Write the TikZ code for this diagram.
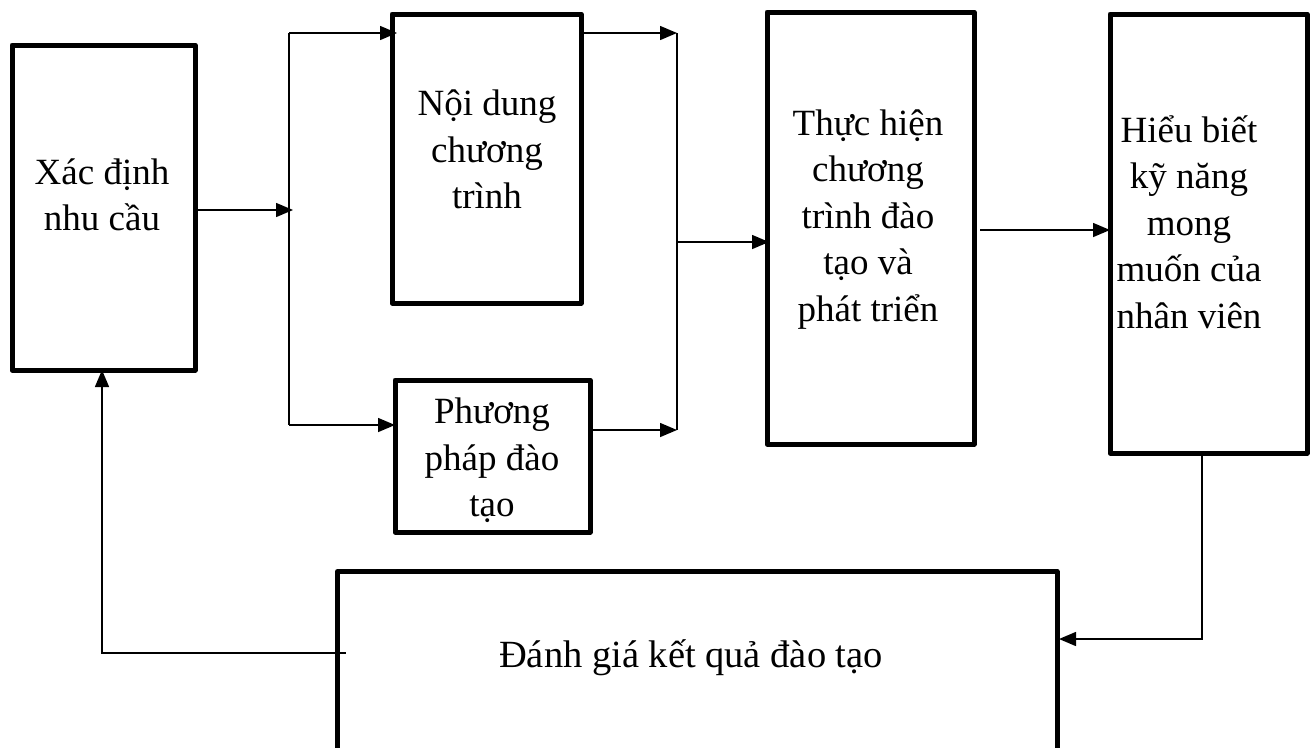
\documentclass[tikz,border=0pt]{standalone}
\usepackage{fontspec}
\setmainfont{Liberation Serif}
\usetikzlibrary{arrows.meta,calc}

\tikzset{
  box/.style={draw, line width=5pt, line join=round, rectangle,
              inner sep=0pt, outer sep=0pt},
  lbl/.style={align=center, inner sep=0pt, outer sep=0pt,
              font=\fontsize{37pt}{46.5pt}\selectfont},
  conn/.style={line width=1.5pt},
  arr/.style={conn, -{Triangle[length=17pt,width=14pt]}},
}
\newcommand{\txtline}[1]{\strut #1}

\begin{document}
\begin{tikzpicture}[x=1pt,y=-1pt]
  \clip (0,0) rectangle (1316,747);
  \fill[white] (0,0) rectangle (1316,747);

  % boxes
  \node[box, minimum width=183pt, minimum height=325pt] (need)    at (103.5,207.5) {};
  \node[box, minimum width=189pt, minimum height=289pt] (content) at (486.5,158.5) {};
  \node[box, minimum width=195pt, minimum height=152pt] (method)  at (492.5,456)   {};
  \node[box, minimum width=207pt, minimum height=432pt] (impl)    at (870.5,228)   {};
  \node[box, minimum width=197pt, minimum height=439pt] (skill)   at (1208.5,233.5){};
  \node[box, minimum width=719.5pt, minimum height=240pt] (eval)  at (697.25,691.5){};

  % labels
  \node[lbl] (needT)    at (102,198)  {\txtline{Xác định}\\\txtline{nhu cầu}};
  \node[lbl] (contentT) at (487,153)  {\txtline{Nội dung}\\\txtline{chương}\\\txtline{trình}};
  \node[lbl] (methodT)  at (492,461)  {\txtline{Phương}\\\txtline{pháp đào}\\\txtline{tạo}};
  \node[lbl] (implT)    at (868,219)  {\txtline{Thực hiện}\\\txtline{chương}\\\txtline{trình đào}\\\txtline{tạo và}\\\txtline{phát triển}};
  \node[lbl] (skillT)   at (1189,226) {\txtline{Hiểu biết}\\\txtline{kỹ năng}\\\txtline{mong}\\\txtline{muốn của}\\\txtline{nhân viên}};
  \node[lbl, font=\fontsize{38.5pt}{46.5pt}\selectfont] (evalT) at (691,658) {\txtline{Đánh giá kết quả đào tạo}};

  % junction points
  \coordinate (splitTop) at (289,33);
  \coordinate (splitMid) at (289,210);
  \coordinate (splitBot) at (289,425);
  \coordinate (joinTop)  at (677,33);
  \coordinate (joinMid)  at (677,242);
  \coordinate (joinBot)  at (677,430);
  \coordinate (fbCorner) at (1202,639);
  \coordinate (backCorner) at (102,653);

  % fan-out from needs analysis
  \draw[conn] (splitTop) -- (splitBot);
  \draw[arr] ([xshift=2pt]need.east |- splitMid) -- ([xshift=4pt]splitMid);
  \draw[arr] (splitTop) -- ([xshift=5pt]splitTop -| content.west);
  \draw[arr] (splitBot) -- (splitBot -| method.west);

  % merge into implementation
  \draw[arr] ([xshift=2pt]content.east |- joinTop) -- (joinTop);
  \draw[conn] (joinTop) -- (joinBot);
  \draw[arr] ([xshift=2pt]method.east |- joinBot) -- (joinBot);
  \draw[arr] (joinMid) -- ([xshift=2pt]joinMid -| impl.west);

  % implementation to outcomes
  \draw[arr] ([xshift=6pt]impl.east |- 0,230) -- (skill.west |- 0,230);

  % feedback loop
  \draw[arr] (fbCorner |- skill.south) -- (fbCorner) -- ([xshift=2pt]fbCorner -| eval.east);
  \draw[arr] ([xshift=8pt]backCorner -| eval.west) -- (backCorner) -- (backCorner |- need.south);
\end{tikzpicture}
\end{document}
